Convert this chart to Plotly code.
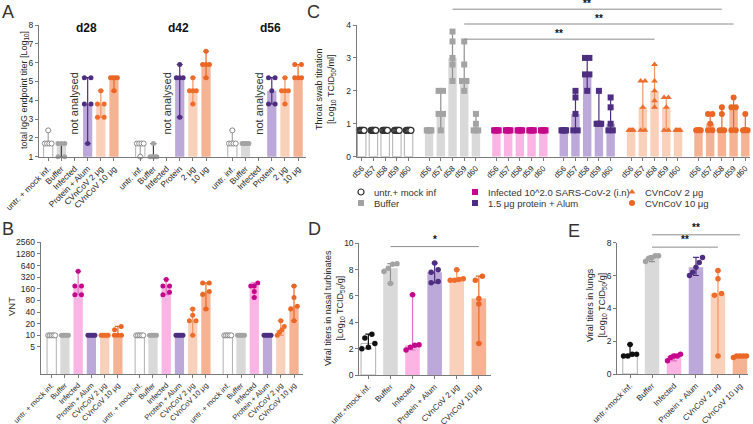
import numpy as np
import plotly.graph_objects as go

W, H = 753, 424
FONT = "Liberation Sans, Arial, Helvetica, sans-serif"
TXT = "#262626"
AXC = "#7a7a7a"

# ---------------- Panel A: total IgG endpoint titer [log10] ----------------
A_timepoints = ["d28", "d42", "d56"]
A_ticklabels = ["untr. + mock inf.", "Buffer", "Infected", "Protein + Alum", "CVnCoV 2 μg", "CVnCoV 10 μg",
                "untr. inf.", "Buffer", "Infected", "Protein", "2 μg", "10 μg",
                "untr. inf.", "Buffer", "Infected", "Protein", "2 μg", "10 μg"]
A_untr = [[2.4, 1.7, 1.7, 1.7, 1.7], [1.7, 1.7, 1.7, 1.7, 1.0], [2.4, 1.7, 1.7, 1.7, 1.7]]
A_buffer = [[1.7, 1.7, 1.7, 1.0, 1.0], [1.7, 1.0, 1.0, 1.0, 1.0], [1.7, 1.7, 1.7, 1.7, 1.7]]
A_protein = [[5.2, 5.2, 3.8, 3.8, 1.7], [5.9, 5.2, 5.2, 5.2, 3.1], [5.2, 5.2, 4.5, 3.8, 3.8]]
A_cv2 = [[4.5, 3.8, 3.8, 3.1, 3.1], [5.2, 4.5, 4.5, 4.5, 3.8], [5.2, 4.5, 4.5, 4.5, 3.8]]
A_cv10 = [[5.2, 5.2, 5.2, 5.2, 4.5], [6.6, 5.9, 5.9, 5.9, 5.2], [5.9, 5.9, 5.2, 5.2, 5.2]]
A_not_analysed = "not analysed"

# ---------------- Panel B: VNT ----------------
B_ticklabels = ["untr. + mock inf.", "Buffer", "Infected", "Protein + Alum", "CVnCoV 2 μg", "CVnCoV 10 μg",
                "untr. + mock inf.", "Buffer", "Infected", "Protein + Alum", "CVnCoV 2 μg", "CVnCoV 10 μg",
                "untr. + mock inf.", "Buffer", "Infected", "Protein + Alum", "CVnCoV 2 μg", "CVnCoV 10 μg"]
B_yticks = [5, 10, 20, 40, 80, 160, 320, 640, 1280, 2560]
B_untr = [[10, 10, 10, 10, 10], [10, 10, 10, 10, 10], [10, 10, 10, 10, 10]]
B_buffer = [[10, 10, 10, 10, 10], [10, 10, 10, 10, 10], [10, 10, 10, 10, 10]]
B_infected = [[453, 190, 190, 113, 113], [280, 190, 190, 130, 113], [228, 190, 190, 136, 96]]
B_protein = [[10, 10, 10, 10, 10], [10, 10, 10, 10, 10], [10, 10, 10, 10, 10]]
B_cv2 = [[10, 10, 10, 10, 10], [48, 33, 24, 24, 10], [24, 17, 14, 12, 10]]
B_cv10 = [[17, 14, 10, 10, 10], [228, 228, 136, 114, 48], [190, 96, 57, 48, 24]]

# ---------------- Panel C: throat swab titration ----------------
C_days = ["d56", "d57", "d58", "d59", "d60"]
C_untr = [[0.8, 0.8, 0.8, 0.8, 0.8], [0.8, 0.8, 0.8, 0.8, 0.8], [0.8, 0.8, 0.8, 0.8, 0.8],
          [0.8, 0.8, 0.8, 0.8, 0.8], [0.8, 0.8, 0.8, 0.8, 0.8]]
C_buffer = [[0.8, 0.8, 0.8, 0.8, 0.8], [2.0, 2.0, 1.3, 1.3, 0.8], [3.8, 3.5, 3.0, 2.8, 2.3],
            [3.5, 2.8, 2.3, 2.3, 2.0], [1.3, 1.0, 0.8, 0.8, 0.8]]
C_infected = [[0.8, 0.8, 0.8, 0.8, 0.8], [0.8, 0.8, 0.8, 0.8, 0.8], [0.8, 0.8, 0.8, 0.8, 0.8],
              [0.8, 0.8, 0.8, 0.8, 0.8], [0.8, 0.8, 0.8, 0.8, 0.8]]
C_protein = [[0.8, 0.8, 0.8, 0.8, 0.8], [2.0, 1.8, 1.3, 0.8, 0.8], [3.0, 3.0, 2.5, 2.5, 2.0],
             [2.0, 1.0, 1.0, 1.0, 1.0], [1.8, 1.5, 1.0, 0.8, 0.8]]
C_cv2 = [[0.8, 0.8, 0.8, 0.8, 0.8], [2.3, 2.3, 1.5, 0.8, 0.8], [2.8, 2.3, 2.0, 1.7, 1.5],
         [1.8, 1.8, 1.5, 0.8, 0.8], [0.8, 0.8, 0.8, 0.8, 0.8]]
C_cv10 = [[0.8, 0.8, 0.8, 0.8, 0.8], [1.3, 1.3, 1.0, 0.8, 0.8], [1.5, 1.3, 0.8, 0.8, 0.8],
          [1.8, 1.5, 1.5, 0.8, 0.8], [1.3, 0.8, 0.8, 0.8, 0.8]]
C_legend = ["untr.+ mock inf", "Buffer", "Infected 10^2.0 SARS-CoV-2 (i.n)",
            "1.5 μg protein + Alum", "CVnCoV 2 μg", "CVnCoV 10 μg"]
# significance: (group_a, day_a, group_b, day_b, height, label)
C_sig = [(1, 2, 5, 2, 4.48, "**"), (1, 3, 5, 3, 4.03, "**"), (1, 3, 4, 2, 3.57, "**")]

# ---------------- Panels D / E ----------------
DE_ticklabels_D = ["untr.+mock inf.", "Buffer", "Infected", "Protein + Alum", "CVnCoV 2 μg", "CVnCoV 10 μg"]
DE_ticklabels_E = ["untr.+mock inf.", "Buffer", "Infected", "Protein + Alum", "CVnCoV 2 μg", "CVnCoV 10 μg"]
D_untr = [3.1, 2.8, 2.4, 2.1, 2.0]
D_buffer = [8.45, 8.4, 8.1, 7.85, 6.95]
D_infected = [6.1, 2.3, 2.25, 2.1, 1.9]
D_protein = [8.5, 8.0, 7.8, 7.1, 7.0]
D_cv2 = [8.0, 7.3, 7.25, 7.2, 7.2]
D_cv10 = [7.5, 7.2, 5.8, 5.4, 2.4]
D_sig = [(1, 5, 9.75, "*")]
E_untr = [1.8, 1.2, 1.2, 1.1, 1.1]
E_buffer = [7.2, 7.2, 7.1, 7.05, 6.85]
E_infected = [1.2, 1.1, 1.1, 1.0, 0.8]
E_protein = [7.1, 6.8, 6.5, 6.2, 6.0]
E_cv2 = [6.3, 5.8, 4.9, 4.8, 1.1]
E_cv10 = [1.1, 1.1, 1.1, 1.1, 1.0]
E_sig = [(1, 5, 8.48, "**"), (1, 4, 7.73, "**")]

# ---------------- styles ----------------
STY = {
    "untr": dict(bar="#ffffff", barline="#b0b0b0", blw=1, pt="#ffffff", ptline="#8a8a8a", plw=1, err="#a8a8a8", sym="circle"),
    "buffer": dict(bar="#d9d9d9", barline="#d9d9d9", blw=0, pt="#a3a3a3", ptline="#a3a3a3", plw=0, err="#8f8f8f", sym="circle"),
    "infected": dict(bar="#fbb4e4", barline="#fbb4e4", blw=0, pt="#c5078b", ptline="#c5078b", plw=0, err="#e070c0", sym="circle"),
    "protein": dict(bar="#bda9d9", barline="#bda9d9", blw=0, pt="#4e2e80", ptline="#4e2e80", plw=0, err="#4e2e80", sym="circle"),
    "cv2": dict(bar="#f9d0ba", barline="#f9d0ba", blw=0, pt="#ee6c2c", ptline="#ee6c2c", plw=0, err="#f29462", sym="circle"),
    "cv10": dict(bar="#f5b394", barline="#f5b394", blw=0, pt="#eb6625", ptline="#eb6625", plw=0, err="#eb6625", sym="circle"),
}

# axis boxes in pixels (x0, x1), (ytop, ybottom)
BOX = {
    "A": dict(x=(39, 306), y=(25, 156.7), xr=[-0.7, 19.6], yr=[1, 8]),
    "B": dict(x=(40.7, 303), y=(242.3, 374), xr=[-0.83, 18.98], yr=[0, float(np.log10(2560))]),
    "C": dict(x=(356.7, 750), y=(25, 156.7), xr=[-0.43, 33.15], yr=[0, 4]),
    "D": dict(x=(359.3, 491), y=(243.3, 375), xr=[-0.41, 5.55], yr=[0, 10]),
    "E": dict(x=(617.3, 748.3), y=(242.7, 374), xr=[-0.58, 5.38], yr=[0, 8]),
}
AXID = {"A": ("x", "y"), "B": ("x2", "y2"), "C": ("x3", "y3"), "D": ("x4", "y4"), "E": ("x5", "y5")}


def slot_px(k):
    b = BOX[k]
    return (b["x"][1] - b["x"][0]) / (b["xr"][1] - b["xr"][0])


def ypix_fn(k, log=False):
    b = BOX[k]
    s = (b["y"][1] - b["y"][0]) / (b["yr"][1] - b["yr"][0])
    if log:
        return lambda v: np.log10(v) * s
    return lambda v: v * s


def ypaper(k, v):
    b = BOX[k]
    frac = (v - b["yr"][0]) / (b["yr"][1] - b["yr"][0])
    py = b["y"][1] - frac * (b["y"][1] - b["y"][0])
    return 1 - py / H


def offsets(vals, ypix, spx, msize, k_px, max_px):
    ys = [ypix(v) for v in vals]
    order = sorted(range(len(vals)), key=lambda i: ys[i])
    clusters = [[order[0]]]
    for i in order[1:]:
        if abs(ys[i] - ys[clusters[-1][-1]]) < msize * 0.9:
            clusters[-1].append(i)
        else:
            clusters.append([i])
    off = [0.0] * len(vals)
    for cl in clusters:
        m = len(cl)
        if m > 1:
            half = min(max_px, k_px * (m - 1) / 2)
            for i, xo in zip(cl, np.linspace(-half, half, m)):
                off[i] = xo / spx
    return off


fig = go.Figure()


def add_treat(panel, pos, pts, sty, bw, msize, k_px, max_px, log=False, sym=None, err_w=3):
    xa, ya = AXID[panel]
    med = [float(np.median(p)) for p in pts]
    hi = [float(max(p)) - m for p, m in zip(pts, med)]
    lo = [m - float(min(p)) for p, m in zip(pts, med)]
    fig.add_trace(go.Bar(
        x=pos, y=med, width=bw, xaxis=xa, yaxis=ya,
        marker=dict(color=sty["bar"], line=dict(color=sty["barline"], width=sty["blw"])),
        error_y=dict(type="data", symmetric=False, array=hi, arrayminus=lo,
                     color=sty["err"], thickness=1.2, width=err_w),
        showlegend=False, hoverinfo="skip"))
    ypix = ypix_fn(panel, log)
    spx = slot_px(panel)
    xs, ys = [], []
    for p0, vals in zip(pos, pts):
        offs = offsets(vals, ypix, spx, msize, k_px, max_px)
        xs += [p0 + o for o in offs]
        ys += list(vals)
    fig.add_trace(go.Scatter(
        x=xs, y=ys, mode="markers", xaxis=xa, yaxis=ya, cliponaxis=False,
        marker=dict(symbol=sym or sty["sym"], size=msize, color=sty["pt"],
                    line=dict(color=sty["ptline"], width=sty["plw"])),
        showlegend=False, hoverinfo="skip"))


# ---- Panel A ----
A_series = [("untr", 0, A_untr), ("buffer", 1, A_buffer), ("protein", 3, A_protein),
            ("cv2", 4, A_cv2), ("cv10", 5, A_cv10)]
for key, idx, pts in A_series:
    sty = dict(STY[key])
    if key == "buffer":
        sty["err"] = "#3c3c3c"
    pos = [g * 7 + idx for g in range(len(A_timepoints))]
    add_treat("A", pos, pts, sty, 0.7, 5, 6.6, 3.4)
A_tickvals = [g * 7 + i for g in range(3) for i in range(6)]

# ---- Panel B ----
B_series = [("untr", 0, B_untr), ("buffer", 1, B_buffer), ("infected", 2, B_infected),
            ("protein", 3, B_protein), ("cv2", 4, B_cv2), ("cv10", 5, B_cv10)]
for key, idx, pts in B_series:
    pos = [g * 6.65 + idx for g in range(3)]
    add_treat("B", pos, pts, STY[key], 0.7, 5, 6.6, 3.5, log=True)
B_tickvals = [g * 6.65 + i for g in range(3) for i in range(6)]

# ---- Panel C ----
C_series = [("untr", C_untr, "circle"), ("buffer", C_buffer, "square"), ("infected", C_infected, "square"),
            ("protein", C_protein, "square"), ("cv2", C_cv2, "triangle-up"), ("cv10", C_cv10, "circle")]
for g, (key, pts, sym) in enumerate(C_series):
    sty = dict(STY[key])
    if key == "untr":
        sty["ptline"] = "#303030"
        sty["plw"] = 1.3
    pos = [g * 5.75 + d for d in range(len(C_days))]
    add_treat("C", pos, pts, sty, 0.72, 6, 4.4, 2.3, sym=sym, err_w=2.5)
C_tickvals = [g * 5.75 + d for g in range(6) for d in range(5)]

# ---- Panels D, E ----
for panel, series in (("D", [D_untr, D_buffer, D_infected, D_protein, D_cv2, D_cv10]),
                      ("E", [E_untr, E_buffer, E_infected, E_protein, E_cv2, E_cv10])):
    for i, (key, vals) in enumerate(zip(["untr", "buffer", "infected", "protein", "cv2", "cv10"], series)):
        sty = dict(STY[key])
        if key == "untr":
            sty.update(pt="#111111", ptline="#111111", plw=0, err="#111111")
        add_treat(panel, [i], [vals], sty, 0.66, 5.5, 7.0, 6.5, err_w=3)

# ---- legend (hidden pixel-space axis) ----
LEG_X = [361, 361, 475, 475, 632, 632]
LEG_Y = [192, 203, 192, 203, 192, 203]
LEG_SYM = ["circle", "square", "square", "square", "triangle-up", "circle"]
LEG_KEYS = ["untr", "buffer", "infected", "protein", "cv2", "cv10"]
fig.add_trace(go.Scatter(
    x=LEG_X, y=LEG_Y, mode="markers", xaxis="x6", yaxis="y6", cliponaxis=False,
    marker=dict(symbol=LEG_SYM, size=6,
                color=["#ffffff"] + [STY[k]["pt"] for k in LEG_KEYS[1:]],
                line=dict(color=["#303030"] + [STY[k]["pt"] for k in LEG_KEYS[1:]], width=[1.2, 0, 0, 0, 0, 0])),
    showlegend=False, hoverinfo="skip"))

# ---------------- layout ----------------
def xax(k, tickvals, ticktext, fs=8.5):
    b = BOX[k]
    return dict(domain=[b["x"][0] / W, b["x"][1] / W], range=b["xr"], anchor=AXID[k][1],
                tickmode="array", tickvals=tickvals, ticktext=ticktext, tickangle=-45,
                showline=True, linecolor=AXC, linewidth=1, ticks="outside", ticklen=3,
                tickcolor=AXC, tickwidth=1, showgrid=False, zeroline=False, automargin=False,
                tickfont=dict(size=fs, color=TXT, family=FONT), fixedrange=True)


def yax(k, **kw):
    b = BOX[k]
    d = dict(domain=[1 - b["y"][1] / H, 1 - b["y"][0] / H], range=b["yr"], anchor=AXID[k][0],
             showline=True, linecolor=AXC, linewidth=1, ticks="outside", ticklen=3,
             tickcolor=AXC, tickwidth=1, showgrid=False, zeroline=False, automargin=False,
             tickfont=dict(size=8.5, color=TXT, family=FONT), fixedrange=True)
    d.update(kw)
    return d


ann = []
shapes = []


def txt(x, y, s, size=9, angle=0, xref="paper", yref="paper", xanchor="center", yanchor="middle", color=TXT, bold=False, yshift=0):
    ann.append(dict(x=x, y=y, xref=xref, yref=yref, text=("<b>%s</b>" % s) if bold else s, showarrow=False,
                    textangle=angle, xanchor=xanchor, yanchor=yanchor, yshift=yshift,
                    font=dict(size=size, color=color, family=FONT)))


# panel letters
for letter, (px, py) in {"A": (8, 12), "B": (8, 229), "C": (313, 12), "D": (314, 229), "E": (574, 231)}.items():
    txt(px / W, 1 - py / H, letter, size=18, color="#333333")

# y titles
txt(24 / W, 1 - 90 / H, "total IgG endpoint titer [Log<sub>10</sub>]", size=9, angle=-90)
txt(11 / W, 1 - 307 / H, "VNT", size=9.5, angle=-90)
txt(326 / W, 1 - 89 / H, "Throat swab titration<br>[Log<sub>10</sub> TCID<sub>50</sub>/ml]", size=9, angle=-90)
txt(334 / W, 1 - 308 / H, "Viral titers in nasal turbinates<br>[Log<sub>10</sub> TCID<sub>50</sub>/g]", size=9, angle=-90)
txt(596 / W, 1 - 305 / H, "Viral titers in lungs<br>[Log<sub>10</sub> TCID<sub>50</sub>/g]", size=9, angle=-90)

# A group titles and "not analysed"
for g, tp in enumerate(A_timepoints):
    txt(g * 7 + 2.9, 1 - 28 / H, tp, size=12, xref="x", bold=True, color="#111111")
    txt(g * 7 + 2, 3.8, A_not_analysed, size=11, angle=-90, xref="x", yref="y", color="#333333")

# C significance
for ga, da, gb, db, h, lab in C_sig:
    xa_, xb_ = ga * 5.75 + da, gb * 5.75 + db
    yp = ypaper("C", h)
    shapes.append(dict(type="line", xref="x3", yref="paper", x0=xa_, x1=xb_, y0=yp, y1=yp,
                       line=dict(color="#8c8c8c", width=1)))
    txt((xa_ + xb_) / 2, yp, lab, size=10, xref="x3", yanchor="bottom", color="#111111", bold=True, yshift=-2)

# D significance
for a, b, h, lab in D_sig:
    shapes.append(dict(type="line", xref="x4", yref="y4", x0=a, x1=b, y0=h, y1=h,
                       line=dict(color="#8c8c8c", width=1)))
    txt((a + b) / 2, ypaper("D", h), lab, size=10, xref="x4", yanchor="bottom", color="#111111", bold=True)

# E significance
for a, b, h, lab in E_sig:
    yp = ypaper("E", h)
    shapes.append(dict(type="line", xref="x5", yref="paper", x0=a, x1=b, y0=yp, y1=yp,
                       line=dict(color="#8c8c8c", width=1)))
    txt((a + b) / 2, yp, lab, size=10, xref="x5", yanchor="bottom", color="#111111", bold=True)

# legend texts
for lx, ly, lab in zip(LEG_X, LEG_Y, C_legend):
    txt((lx + 11) / W, 1 - ly / H, lab, size=9.5, xanchor="left", color="#333333")

fig.update_layout(
    width=W, height=H, margin=dict(l=0, r=0, t=0, b=0, autoexpand=False),
    paper_bgcolor="white", plot_bgcolor="rgba(0,0,0,0)",
    barmode="overlay", showlegend=False,
    font=dict(family=FONT, color=TXT),
    xaxis=xax("A", A_tickvals, A_ticklabels, fs=8.3),
    yaxis=yax("A", tickmode="linear", dtick=1, tick0=1),
    xaxis2=xax("B", B_tickvals, B_ticklabels, fs=7.5),
    yaxis2=yax("B", type="log", tickmode="array", tickvals=B_yticks, ticktext=[str(v) for v in B_yticks]),
    xaxis3=xax("C", C_tickvals, C_days * 6, fs=8),
    yaxis3=yax("C", tickmode="linear", dtick=1, tick0=0),
    xaxis4=xax("D", list(range(6)), DE_ticklabels_D, fs=8),
    yaxis4=yax("D", tickmode="linear", dtick=2, tick0=0),
    xaxis5=xax("E", list(range(6)), DE_ticklabels_E, fs=8),
    yaxis5=yax("E", tickmode="linear", dtick=2, tick0=0),
    xaxis6=dict(domain=[0, 1], range=[0, W], visible=False, anchor="y6", fixedrange=True),
    yaxis6=dict(domain=[0, 1], range=[H, 0], visible=False, anchor="x6", fixedrange=True),
    annotations=ann, shapes=shapes,
)

fig.write_html("out.html", config={"displayModeBar": False},
               post_script="document.body.style.margin='0';document.body.style.overflow='hidden';")
